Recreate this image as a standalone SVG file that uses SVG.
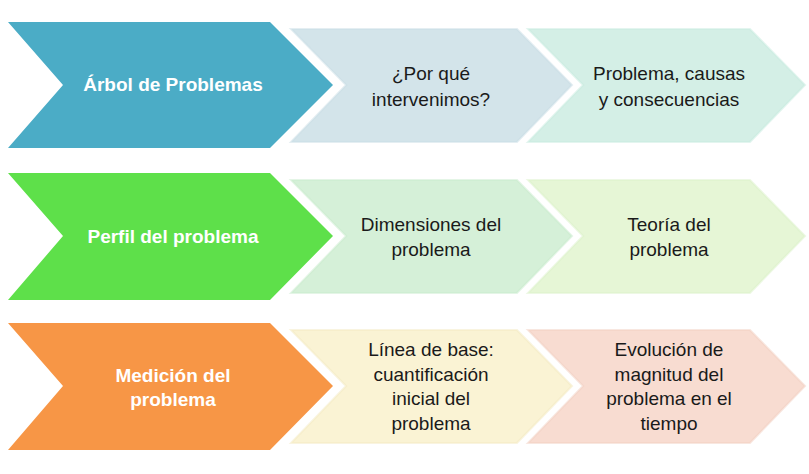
<svg xmlns="http://www.w3.org/2000/svg" width="809" height="474" viewBox="0 0 809 474">
<style>
text{font-family:"Liberation Sans",Arial,sans-serif;font-size:19px;text-anchor:middle;fill:#1a1a1a}
.w{fill:#fff;font-weight:bold}
.s{stroke-width:2;stroke-opacity:0.5}
</style>
<rect width="809" height="474" fill="#fff"/>
<g id="r1a"><polygon points="8,22 270,22 333,85 270,148 8,148 63,85" fill="#4bacc6"/><text class="w" x="173" y="91">Árbol de Problemas</text></g>
<g id="r1b"><polygon class="s" points="291,29 517,29 572,85 517,142 291,142 346,85" fill="#d3e4ea" stroke="#c9dde6"/><text x="431" y="80">¿Por qué</text><text x="431" y="106">intervenimos?</text></g>
<g id="r1c"><polygon class="s" points="528,29 750,29 805,85 750,142 528,142 583,85" fill="#d4efe6" stroke="#c8ebdf"/><text x="669" y="80">Problema, causas</text><text x="669" y="106">y consecuencias</text></g>
<g id="r2a"><polygon points="8,173 270,173 333,236 270,300 8,300 63,236" fill="#5ee04a"/><text class="w" x="173" y="243">Perfil del problema</text></g>
<g id="r2b"><polygon class="s" points="291,180 517,180 572,236 517,293 291,293 346,236" fill="#d5f0d8" stroke="#c9ebcd"/><text x="431" y="231">Dimensiones del</text><text x="431" y="256">problema</text></g>
<g id="r2c"><polygon class="s" points="528,180 750,180 805,236 750,293 528,293 583,236" fill="#e6f6d6" stroke="#dcf1c9"/><text x="669" y="231">Teoría del</text><text x="669" y="256">problema</text></g>
<g id="r3a"><polygon points="8,323 270,323 333,386 270,450 8,450 63,386" fill="#f79646"/><text class="w" x="173" y="382">Medición del</text><text class="w" x="173" y="406">problema</text></g>
<g id="r3b"><polygon class="s" points="291,330 517,330 572,386 517,443 291,443 346,386" fill="#faf3d4" stroke="#f3eac2"/><text x="431" y="356">Línea de base:</text><text x="431" y="381">cuantificación</text><text x="431" y="405">inicial del</text><text x="431" y="430">problema</text></g>
<g id="r3c"><polygon class="s" points="528,330 750,330 805,386 750,443 528,443 583,386" fill="#f8dcd1" stroke="#f2d0c2"/><text x="669" y="356">Evolución de</text><text x="669" y="381">magnitud del</text><text x="669" y="405">problema en el</text><text x="669" y="430">tiempo</text></g>
<g id="connectors"/>
</svg>
